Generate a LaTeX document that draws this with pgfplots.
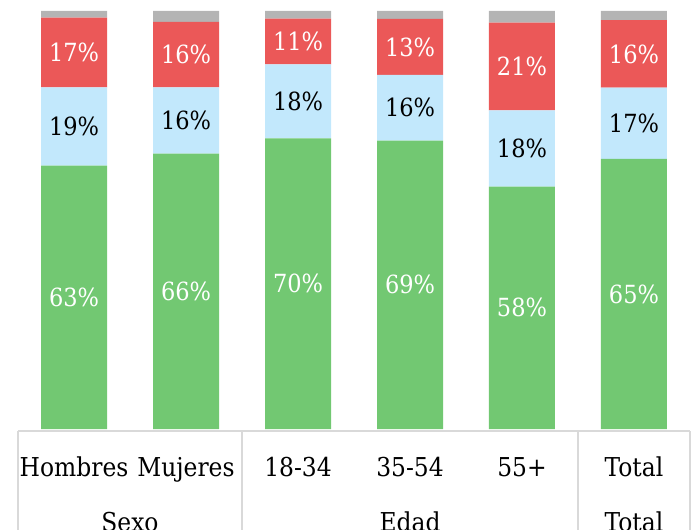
\documentclass[border=0pt]{standalone}
\usepackage{pgfplots}
\pgfplotsset{compat=1.18}
\usepackage{pgfplotstable}
\usepackage{fontspec}
\setmainfont{DejaVu Serif Condensed}

\definecolor{cg}{HTML}{72C872}
\definecolor{cb}{HTML}{C2E8FC}
\definecolor{cr}{HTML}{EB5858}
\definecolor{cgray}{HTML}{B4B4B4}
\definecolor{cline}{HTML}{D9D9D9}

% segment values
\pgfplotstableread{
x green blue red gray
0 63.0 18.7 16.7 1.6
1 65.9 15.8 15.7 2.6
2 69.55 17.65 11.0 1.8
3 69.0 15.7 13.4 1.9
4 58.0 18.2 21.0 2.8
5 64.6 17.05 16.15 2.2
}\bars

% label positions (segment middles) and printed values
\pgfplotstableread{
x gy gl by bl ry rl
0 31.5 63 72.35 19 90.05 17
1 32.95 66 73.8 16 89.55 16
2 34.78 70 78.38 18 92.7 11
3 34.5 69 76.85 16 91.4 13
4 29.0 58 67.1 18 86.7 21
5 32.3 65 73.1 17 89.7 16
}\labels

\begin{document}
\begin{tikzpicture}
\begin{axis}[
  name=main,
  scale only axis, width=694pt, height=429pt,
  xmin=-0.661, xmax=5.536, ymin=0, ymax=102.63,
  ybar stacked, bar width=66pt,
  axis x line*=bottom, axis y line=none,
  x axis line style={draw=none},
  major tick length=0pt,
  ytick=\empty,
  xtick={0,1,2,3,4,5},
  xticklabels={Hombres,Mujeres,18-34,35-54,55+,Total},
  xticklabel style={anchor=base, yshift=-47pt, font=\fontsize{26}{30}\selectfont},
  clip=false,
]
\addplot[fill=cg, draw=none] table[x=x, y=green] {\bars};
\addplot[fill=cb, draw=none] table[x=x, y=blue] {\bars};
\addplot[fill=cr, draw=none] table[x=x, y=red] {\bars};
\addplot[fill=cgray, draw=none] table[x=x, y=gray] {\bars};
\draw[cline, line width=1.5pt] (axis cs:-0.5,-0.5) -- (axis cs:5.5,-0.5);
\draw[cline, line width=1.5pt] (axis cs:-0.5,-0.5) -- (axis cs:-0.5,-30);
\draw[cline, line width=1.5pt] (axis cs:1.5,-0.5) -- (axis cs:1.5,-30);
\draw[cline, line width=1.5pt] (axis cs:4.5,-0.5) -- (axis cs:4.5,-30);
\draw[cline, line width=1.5pt] (axis cs:5.5,-0.5) -- (axis cs:5.5,-30);
\node[anchor=base, yshift=-102pt, font=\fontsize{26}{30}\selectfont] at (axis cs:0.5,0) {Sexo};
\node[anchor=base, yshift=-102pt, font=\fontsize{26}{30}\selectfont] at (axis cs:3,0) {Edad};
\node[anchor=base, yshift=-102pt, font=\fontsize{26}{30}\selectfont] at (axis cs:5,0) {Total};
\end{axis}
\begin{axis}[
  scale only axis, width=694pt, height=429pt,
  xmin=-0.661, xmax=5.536, ymin=0, ymax=102.63,
  hide axis, clip=false,
  nodes near coords={\pgfplotspointmeta\%},
  point meta=explicit symbolic,
  every node near coord/.append style={anchor=center, font=\fontsize{25}{30}\selectfont},
]
\addplot[draw=none, mark=none, nodes near coords style={text=white}] table[x=x, y=gy, meta=gl] {\labels};
\addplot[draw=none, mark=none, nodes near coords style={text=black}] table[x=x, y=by, meta=bl] {\labels};
\addplot[draw=none, mark=none, nodes near coords style={text=white}] table[x=x, y=ry, meta=rl] {\labels};
\end{axis}
\pgfresetboundingbox
\path[use as bounding box] ([yshift=-101pt]main.south west) rectangle (main.north east);
\end{tikzpicture}
\end{document}
